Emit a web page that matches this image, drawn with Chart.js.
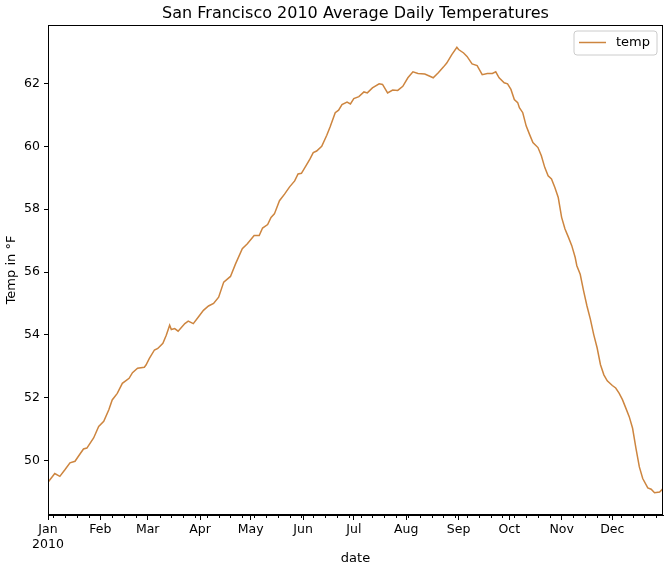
<!DOCTYPE html>
<html><head><meta charset="utf-8">
<script src="https://cdn.jsdelivr.net/npm/chart.js@4.4.1/dist/chart.umd.min.js"></script>
<style>html,body{margin:0;padding:0;background:#fff}#wrap{width:668px;height:573px}</style>
</head><body><div id="wrap"><canvas id="c" width="668" height="573"></canvas></div>
<script>
// ---- data ----
const dayOfYear = [0,4,7,10,13,16,18,21,23,27,30,33,36,38,41,44,48,50,53,57,58,60,63,65,68,70,72,73,75,77,81,83,86,89,92,95,98,101,104,108,111,115,118,122,125,127,130,132,134,137,140,143,146,148,150,153,155,157,159,162,165,167,170,172,174,177,179,181,184,187,189,192,196,198,201,204,207,210,213,216,219,223,226,228,231,234,236,239,242,243,246,248,251,254,257,260,263,265,267,270,272,274,276,278,279,281,283,285,287,290,292,294,296,298,300,302,304,306,308,310,312,313,315,317,319,321,323,325,327,329,331,334,336,338,340,342,344,346,348,350,352,355,357,359,362,364];
const temps = [49.31,49.59,49.50,49.71,49.93,49.98,50.14,50.37,50.40,50.72,51.09,51.25,51.62,51.93,52.14,52.46,52.62,52.80,52.94,52.97,53.04,53.25,53.52,53.57,53.73,53.99,54.31,54.17,54.20,54.12,54.36,54.44,54.36,54.57,54.78,54.92,55.00,55.20,55.68,55.86,56.26,56.74,56.90,57.16,57.16,57.40,57.51,57.74,57.85,58.27,58.48,58.71,58.90,59.12,59.14,59.41,59.59,59.80,59.85,60.00,60.35,60.62,61.07,61.15,61.33,61.41,61.35,61.52,61.58,61.73,61.70,61.86,61.99,61.97,61.70,61.79,61.78,61.91,62.18,62.37,62.32,62.30,62.23,62.18,62.34,62.52,62.65,62.92,63.15,63.08,62.97,62.86,62.62,62.57,62.28,62.32,62.32,62.37,62.18,62.02,61.99,61.81,61.49,61.39,61.23,61.07,60.65,60.38,60.12,59.96,59.70,59.33,59.06,58.96,58.69,58.37,57.74,57.37,57.11,56.84,56.47,56.20,55.93,55.40,54.92,54.50,54.01,53.59,53.05,52.73,52.54,52.39,52.31,52.15,51.94,51.67,51.40,51.03,50.39,49.80,49.43,49.13,49.09,48.98,49.00,49.11];
const monthLabels = ['Jan','Feb','Mar','Apr','May','Jun','Jul','Aug','Sep','Oct','Nov','Dec'];
const monthStartDays = [0,31,59,90,120,151,181,212,243,273,304,334];
const yearLabel = '2010';
const yTickValues = [50,52,54,56,58,60,62];
const firstMonday = 3;
const seriesLabel = 'temp';
const chartTitle = 'San Francisco 2010 Average Daily Temperatures';

const FONT = 'DejaVu Sans';
const lineColor = '#CD853F';

const points = dayOfYear.map((d,i)=>({x:d, y:temps[i]}));
const minorDays = [];
for (let d = firstMonday; d <= 364; d += 7) if (!monthStartDays.includes(d)) minorDays.push(d);

const framePlugin = {
  id:'frame',
  afterDraw(chart){
    const {ctx, chartArea:a, scales} = chart;
    ctx.save();
    // title centred over the axes
    ctx.fillStyle='#000'; ctx.font='16px "'+FONT+'"'; ctx.textAlign='center'; ctx.textBaseline='middle';
    ctx.fillText(chartTitle, (a.left+a.right)/2, 14);
    // spines
    ctx.strokeStyle='#000'; ctx.lineWidth=1;
    ctx.strokeRect(Math.round(a.left)+0.5, Math.round(a.top)+0.5, Math.round(a.right-a.left)-1, Math.round(a.bottom-a.top)-1);
    // minor ticks
    ctx.beginPath();
    minorDays.forEach(d=>{
      const px = Math.round(scales.x.getPixelForValue(d))+0.5;
      ctx.moveTo(px, a.bottom); ctx.lineTo(px, a.bottom+3);
    });
    ctx.stroke();
    // legend
    const ds = chart.data.datasets[0];
    const bx=574, by=31, bw=83, bh=24, r=3;
    ctx.beginPath();
    ctx.moveTo(bx+r,by); ctx.lineTo(bx+bw-r,by); ctx.quadraticCurveTo(bx+bw,by,bx+bw,by+r);
    ctx.lineTo(bx+bw,by+bh-r); ctx.quadraticCurveTo(bx+bw,by+bh,bx+bw-r,by+bh);
    ctx.lineTo(bx+r,by+bh); ctx.quadraticCurveTo(bx,by+bh,bx,by+bh-r);
    ctx.lineTo(bx,by+r); ctx.quadraticCurveTo(bx,by,bx+r,by);
    ctx.closePath();
    ctx.fillStyle='rgba(255,255,255,0.8)'; ctx.fill();
    ctx.strokeStyle='#cccccc'; ctx.lineWidth=1; ctx.stroke();
    ctx.beginPath(); ctx.strokeStyle=ds.borderColor; ctx.lineWidth=1.5;
    ctx.moveTo(579, 42.5); ctx.lineTo(606, 42.5); ctx.stroke();
    ctx.fillStyle='#000'; ctx.font='13px "'+FONT+'"'; ctx.textBaseline='middle'; ctx.textAlign='left';
    ctx.fillText(ds.label, 616, 43);
    ctx.restore();
  }
};

new Chart(document.getElementById('c'), {
  type:'line',
  data:{datasets:[{label:seriesLabel, data:points, borderColor:lineColor, borderWidth:1.5, pointRadius:0, tension:0, fill:false}]},
  options:{
    responsive:false, animation:false, devicePixelRatio:1,
    layout:{padding:{left:0,right:5,top:25,bottom:0}},
    plugins:{
      legend:{display:false}, tooltip:{enabled:false}, title:{display:false}
    },
    scales:{
      x:{type:'linear', min:0, max:364,
        afterBuildTicks:s=>{ s.ticks = monthStartDays.map(v=>({value:v})); },
        afterFit:s=>{ s.height = 58; },
        ticks:{autoSkip:false, maxRotation:0, minRotation:0, color:'#000', padding:2, font:{family:FONT,size:12.5},
          callback:(v,i)=> i===0 ? [monthLabels[0], yearLabel] : monthLabels[i]},
        grid:{drawOnChartArea:false, tickLength:5, color:'#000', tickColor:'#000'},
        border:{color:'#000', width:1},
        title:{display:true, text:'date', color:'#000', font:{family:FONT,size:13}, padding:{top:0,bottom:7}}
      },
      y:{type:'linear', min:48.27, max:63.86,
        afterBuildTicks:s=>{ s.ticks = yTickValues.map(v=>({value:v})); },
        afterFit:s=>{ s.width = 48; },
        ticks:{color:'#000', padding:4, font:{family:FONT,size:12.5}, callback:v=>String(v)},
        grid:{drawOnChartArea:false, tickLength:4, color:'#000', tickColor:'#000'},
        border:{color:'#000', width:1},
        title:{display:true, text:'Temp in °F', color:'#000', font:{family:FONT,size:13}, padding:{top:4,bottom:0}}
      }
    }
  },
  plugins:[framePlugin]
});
</script></body></html>
